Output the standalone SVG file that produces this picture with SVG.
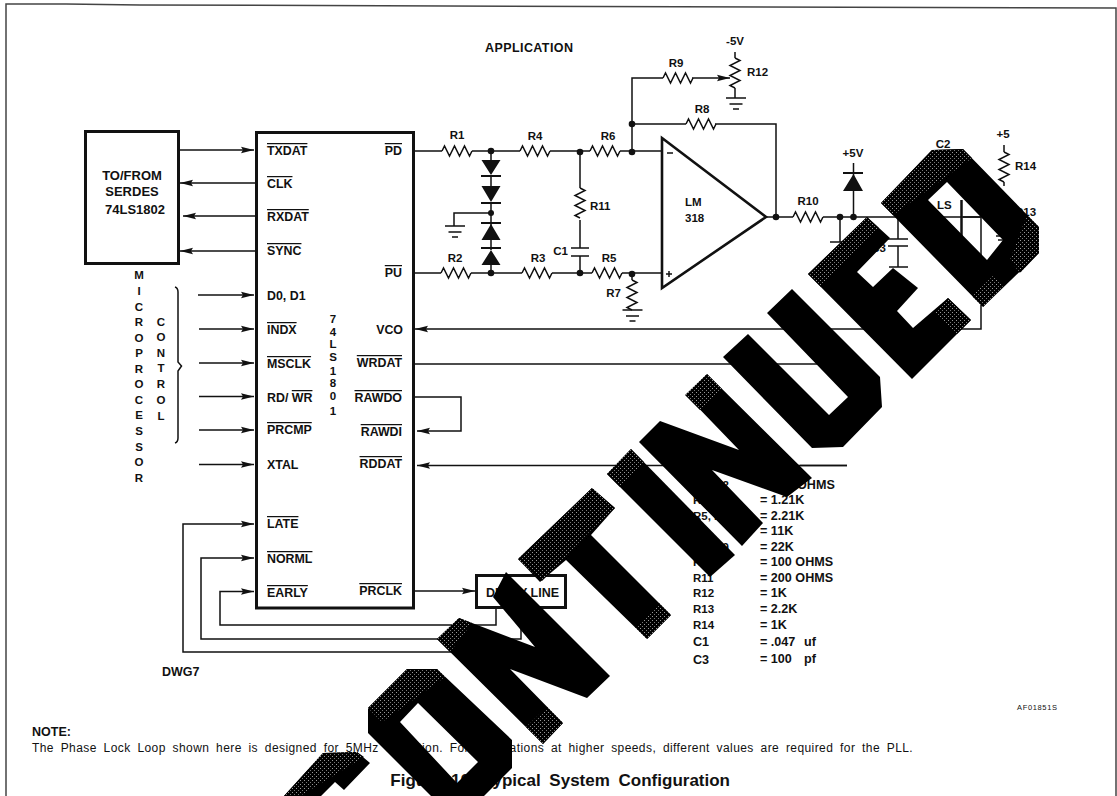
<svg xmlns="http://www.w3.org/2000/svg" width="1117" height="796" viewBox="0 0 1117 796">
<style>
text{font-family:"Liberation Sans",Arial,sans-serif;font-weight:700;font-size:11.5px;fill:#111}
.pin{font-size:12.4px}
.ov{text-decoration:overline}
.e{text-anchor:end}
.m{text-anchor:middle}
.val{font-size:12.6px}
.big{font-size:13px}
.w{fill:none;stroke:#111;stroke-width:1.5}
.b{fill:none;stroke:#111;stroke-width:3}
.a{marker-end:url(#arr)}
.n{fill:#111}
.wm{fill:#000}
.st{fill:url(#stip)}
</style>
<defs>
<marker id="arr" markerUnits="userSpaceOnUse" markerWidth="14" markerHeight="9" refX="13" refY="4" orient="auto"><path d="M0 .8 L13 4 L0 7.2 L2 4Z" fill="#111"/></marker>
<pattern id="stip" width="4" height="4" patternUnits="userSpaceOnUse"><rect width="4" height="4" fill="#000"/><rect width="1" height="1" fill="#999"/><rect x="2" y="2" width="1" height="1" fill="#777"/></pattern>
<path id="rh" d="M0 0l2.5-5 5 10 5-10 5 10 5-10 5 10 2.5-5" fill="none" stroke="#111" stroke-width="1.5"/>
<path id="rv" d="M0 0l5 2.5-10 5 10 5-10 5 10 5-10 5 5 2.5" fill="none" stroke="#111" stroke-width="1.5"/>
<path id="gnd" d="M-10 0H10M-6.5 6H6.5M-3 11H3" fill="none" stroke="#111" stroke-width="1.6"/>
</defs>
<rect width="1117" height="796" fill="#fff"/>
<path id="frame" d="M6 796V4L66 4 140 5 1116 8V796" fill="none" stroke="#444" stroke-width="1.5"/>
<text x="485" y="52" style="font-size:12.500px" textLength="88">APPLICATION</text>
<g id="connectors">
<path class="w a" d="M179 150H254"/><path class="w a" d="M256 183H180"/><path class="w a" d="M256 216H183"/><path class="w a" d="M256 251H180"/>
<path class="w a" d="M198 295H254"/><path class="w a" d="M199 329H254"/><path class="w a" d="M199 363H254"/><path class="w a" d="M199 396.5H254"/><path class="w a" d="M199 430H254"/><path class="w a" d="M199 464.5H254"/>
<path class="w a" d="M460 652H183V524H254"/><path class="w a" d="M521 608V639H201V558H254"/><path class="w a" d="M496 608V625H220V591.5H254"/>
<path class="w a" d="M414 591H475"/>
<path class="w a" d="M414 397H461V431H417"/>
<path class="w a" d="M847 465.5H417"/>
<path class="w a" d="M981 217V329H415"/>
<path class="w" d="M414 364H817"/>
<path class="w" d="M414 151H442M472 151H520M550 151H590M620 151H661"/>
<path class="w" d="M414 273H441M471 273H522M552 273H592M622 273H661"/>
<path class="w" d="M580 152V188M580 220V248M580 256V273"/>
<path class="w" d="M632 152V78H663M632 274V280"/>
<path class="w a" d="M692 78H730"/>
<path class="w" d="M632 124H686M715 124H776V217M735 52V58M735 88V98"/>
<path class="w" d="M766 217H793M823 217H981"/>
<path class="w" d="M491 151V160M491 175V186M491 202V250M491 265V273M491 213H454V226"/>
<path class="w" d="M853.5 163V217M840 217V242M898 217V239M898 246V267M1004 145V152M1004 182V186"/>
</g>
<g id="serdes"><rect class="b" x="85.5" y="131.5" width="93" height="132"/>
<text class="m big" x="132" y="180">TO/FROM</text><text class="m big" x="132" y="196">SERDES</text><text class="m big" x="135" y="214">74LS1802</text></g>
<g id="microprocessor">
<text class="m" x="139" y="279">M</text><text class="m" x="139" y="295">I</text><text class="m" x="139" y="311">C</text><text class="m" x="139" y="326">R</text><text class="m" x="139" y="342">O</text><text class="m" x="139" y="357">P</text><text class="m" x="139" y="373">R</text><text class="m" x="139" y="388">O</text><text class="m" x="139" y="404">C</text><text class="m" x="139" y="419">E</text><text class="m" x="139" y="435">S</text><text class="m" x="139" y="451">S</text><text class="m" x="139" y="466">O</text><text class="m" x="139" y="482">R</text>
<text class="m" x="161" y="326">C</text><text class="m" x="161" y="341">O</text><text class="m" x="161" y="357">N</text><text class="m" x="161" y="372">T</text><text class="m" x="161" y="388">R</text><text class="m" x="161" y="404">O</text><text class="m" x="161" y="420">L</text>
<path class="w" d="M175 287q3 1 3 5V362l3.500 4-3.500 5V438q0 4-3 5"/></g>
<g id="chip-74LS1801"><rect class="b" x="256.500" y="132.500" width="157" height="475.500"/>
<text class="pin ov" x="267" y="155">TXDAT</text><text class="pin ov" x="267" y="188">CLK</text><text class="pin ov" x="267" y="221">RXDAT</text><text class="pin ov" x="267" y="255">SYNC</text>
<text class="pin" x="267" y="300">D0, D1</text><text class="pin ov" x="267" y="334">INDX</text><text class="pin ov" x="267" y="368">MSCLK</text>
<text class="pin" x="267" y="402">RD/ <tspan class="ov">WR</tspan></text><text class="pin ov" x="267" y="434">PRCMP</text><text class="pin" x="267" y="469">XTAL</text>
<text class="pin ov" x="267" y="528">LATE</text><text class="pin ov" x="267" y="563">NORML</text><text class="pin ov" x="267" y="597">EARLY</text>
<text class="pin ov e" x="402" y="155">PD</text><text class="pin ov e" x="402" y="277">PU</text><text class="pin e" x="403" y="334">VCO</text><text class="pin ov e" x="402" y="367">WRDAT</text><text class="pin ov e" x="402" y="402">RAWDO</text><text class="pin ov e" x="402" y="436">RAWDI</text><text class="pin ov e" x="402" y="468">RDDAT</text><text class="pin ov e" x="402" y="595">PRCLK</text>
<text class="m" x="333" y="323">7</text><text class="m" x="333" y="336">4</text><text class="m" x="333" y="348">L</text><text class="m" x="333" y="361">S</text><text class="m" x="333" y="375">1</text><text class="m" x="333" y="387">8</text><text class="m" x="333" y="400">0</text><text class="m" x="333" y="415">1</text></g>
<g id="delay-line"><rect class="b" x="476.500" y="575.500" width="89" height="32"/><text class="e" style="font-size:12.500px" x="559" y="597">DELAY LINE</text></g>
<g id="opamp"><path d="M662 138L766 217 662 288Z" fill="#fff" stroke="#111" stroke-width="2.600" stroke-linejoin="miter"/><path class="w" d="M667 153H673M666 274H672M669 271V277"/>
<text x="685" y="206">LM</text><text x="685" y="222">318</text></g>
<g id="resistors">
<use href="#rh" x="442" y="151"/><text class="m" x="457" y="139">R1</text>
<use href="#rh" x="520" y="151"/><text class="m" x="535" y="140">R4</text>
<use href="#rh" x="590" y="151"/><text class="m" x="608" y="140">R6</text>
<use href="#rh" x="441" y="273"/><text class="m" x="455" y="262">R2</text>
<use href="#rh" x="522" y="273"/><text class="m" x="538" y="262">R3</text>
<use href="#rh" x="592" y="273"/><text class="m" x="609" y="262">R5</text>
<use href="#rh" x="663" y="78"/><text class="m" x="676" y="67">R9</text>
<use href="#rh" x="686" y="124"/><text class="m" x="702" y="113">R8</text>
<use href="#rh" x="793" y="217"/><text class="m" x="808" y="205">R10</text>
<use href="#rv" x="580" y="188"/><text x="590" y="210">R11</text>
<use href="#rv" x="632" y="280"/><text class="e" x="621" y="297">R7</text>
<use href="#rv" x="735" y="58"/><text x="747" y="76">R12</text>
<use href="#rv" x="1004" y="152"/><text x="1015" y="170">R14</text>
<text x="1015" y="216">R13</text></g>
<g id="capacitors"><path class="w" d="M571 248H589M571 256H589M830 242H850M888 239H908M888 246H908M889 267H908"/>
<text class="e" x="568" y="255" >C1</text><text class="m" x="943" y="148">C2</text><text class="e" x="886" y="252">C3</text></g>
<g id="diodes">
<path class="n" d="M481.500 160H500.500L491 175ZM481.500 186H500.500L491 202ZM481.500 240H500.500L491 224ZM481.500 265H500.500L491 250ZM843 191H863L853.500 174Z"/>
<path d="M481 176H501M481 203H501M481 223H501M481 248H501M843 173H863" fill="none" stroke="#111" stroke-width="2"/></g>
<g id="grounds"><use href="#gnd" x="632.500" y="310"/><use href="#gnd" x="736" y="98"/><use href="#gnd" x="455" y="226"/></g>
<g id="supplies"><text class="m" x="735" y="45">-5V</text><text class="m" x="853" y="157">+5V</text><text class="m" x="1003" y="138">+5</text></g>
<g id="junctions" class="n"><circle cx="491" cy="151" r="3.300"/><circle cx="491" cy="273" r="3.300"/><circle cx="491" cy="213" r="3"/><circle cx="580" cy="152" r="3.300"/><circle cx="580" cy="273" r="3.300"/><circle cx="632" cy="152" r="3.300"/><circle cx="632" cy="124" r="3.300"/><circle cx="632" cy="274" r="3.300"/><circle cx="776" cy="217" r="3.300"/><circle cx="840" cy="217" r="3.300"/><circle cx="853.500" cy="217" r="3.300"/></g>
<g id="chip-ls"><text x="937" y="209">LS</text><path d="M961.500 200V240" fill="none" stroke="#111" stroke-width="2.500"/><path class="w" d="M963 217H981M996 236H1003M998 240H1003"/></g>
<path d="M847 465.500H800" stroke="#111" stroke-width="1.600"/>
<g id="values">
<text x="693" y="489">R1, R2</text><text class="val" x="797" y="489">OHMS</text>
<text x="693" y="504">R3, R4</text><text class="val" x="760" y="504">= 1.21K</text>
<text x="693" y="520">R5, R6</text><text class="val" x="760" y="520">= 2.21K</text>
<text x="693" y="535">R7</text><text class="val" x="760" y="535">= 11K</text>
<text x="693" y="551">R8, R9</text><text class="val" x="760" y="551">= 22K</text>
<text x="693" y="566">R10</text><text class="val" x="760" y="566">= 100 OHMS</text>
<text x="693" y="582">R11</text><text class="val" x="760" y="582">= 200 OHMS</text>
<text x="693" y="597">R12</text><text class="val" x="760" y="597">= 1K</text>
<text x="693" y="613">R13</text><text class="val" x="760" y="613">= 2.2K</text>
<text x="693" y="629">R14</text><text class="val" x="760" y="629">= 1K</text>
<text class="val" x="693" y="646">C1</text><text class="val" x="760" y="646">= .047<tspan x="804">uf</tspan></text>
<text class="val" x="693" y="664">C3</text><text class="val" x="760" y="663">= 100<tspan x="804">pf</tspan></text>
</g>
<text x="162" y="676" style="font-size:12.500px">DWG7</text>
<text x="1017" y="710" style="font-size:7.500px;font-weight:400" textLength="40">AF01851S</text>
<text x="32" y="736" style="font-size:12.500px">NOTE:</text>
<text x="32" y="752" style="font-weight:400;font-size:12px;letter-spacing:.3px;word-spacing:3px" textLength="881">The Phase Lock Loop shown here is designed for 5MHz operation. For applications at higher speeds, different values are required for the PLL.</text>
<text class="e" x="730" y="786" style="font-size:17px;word-spacing:4px">Figure 10. Typical System Configuration</text>
<g id="watermark">
<path class="wm" d="M284 796L323 753 357 752 370 763 344 790 335 782 321 796Z"/>
<path class="wm" fill-rule="evenodd" d="M368 708L407 669 437 669 512 740 512 768 484 796 431 796 368 733ZM400 722L457 783 478 762 418 703Z"/>
<path class="wm" d="M437 639L459 618 535 647 493 597 506 572 610 676 587 698 510 669 563 723 543 744Z"/>
<path class="wm" d="M518 559L592 488 615 508 591 535 671 615 647 639 566 560 540 582Z"/>
<path class="wm" d="M607 474L631 449 735 555 710 577Z"/>
<path class="wm" d="M639 442L660 421 739 450 686 395 707 374 812 478 787 497 712 470 763 523 742 546Z"/>
<path class="wm" d="M767 313L792 289 880 377 882 407 843 447 812 448 723 357 748 334 829 415 848 397Z"/>
<path class="wm" d="M808 274L867 217 890 238 857 272 873 287 893 268 918 288 897 311 913 328 948 298 971 320 912 379Z"/>
<path class="wm" fill-rule="evenodd" d="M881 203L932 150 963 149 1039 227 1039 253 983 307ZM928 200L987 260 1003 240 947 182Z"/>
<path class="st" d="M808 274L867 217 879 228 821 287ZM948 298L971 320 957 334 934 312ZM685 395L707 374 722 389 700 410ZM607 474L631 449 644 462 620 487ZM518 559L592 488 600 495 615 508 590 531 542 581ZM659 603L671 615 647 639 635 627ZM543 744L563 723 547 707 526 727ZM881 203L932 150 963 149 972 158 893 215ZM1027 215L1039 227 1039 253 1020 273 1010 260ZM983 307L1004 285 994 275 972 296ZM368 708L407 669 437 669 445 677 382 722ZM284 796L323 753 357 752 364 757 300 796ZM437 639L459 618 472 623 450 652Z"/>
</g>
</svg>
